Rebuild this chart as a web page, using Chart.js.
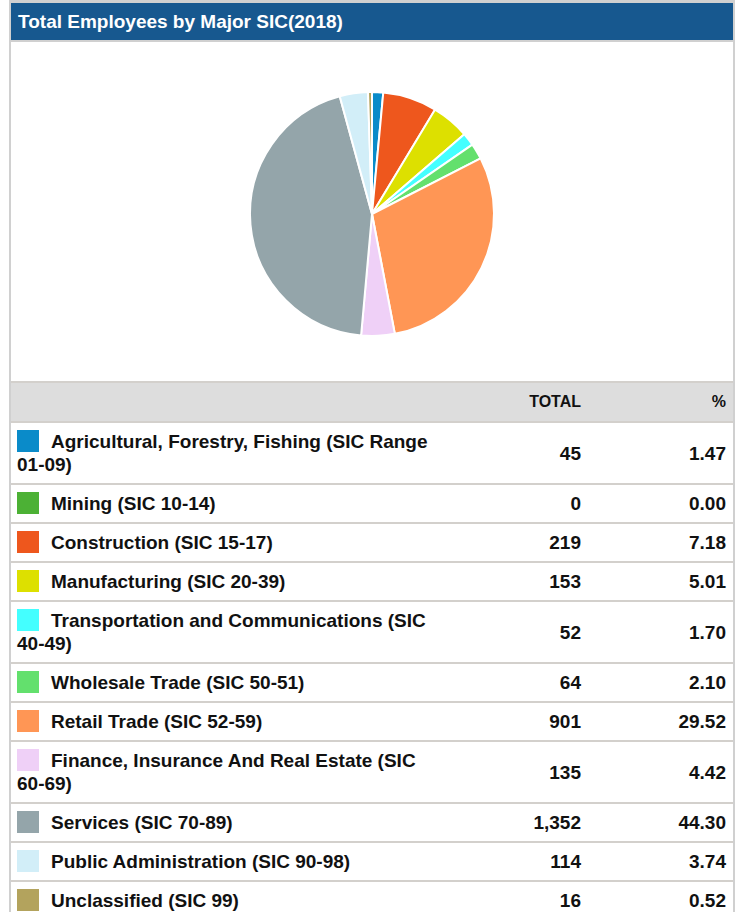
<!DOCTYPE html>
<html>
<head>
<meta charset="utf-8">
<script src="https://cdn.jsdelivr.net/npm/chart.js@4/dist/chart.umd.min.js"></script>
<style>
    body { margin: 0; background: #fff; font-family: "Liberation Sans", Arial, Helvetica, sans-serif; }
    #panel {
        position: absolute; left: 9px; top: 0; width: 722px;
        border: 2px solid #d0d0d0; border-top-width: 3px; border-bottom: none;
    }
    #title {
        height: 37px; line-height: 37px; background: #17588f; color: #fff;
        font-weight: bold; font-size: 19px; padding-left: 7px;
        border-bottom: 2px solid #d0d0d0;
    }
    #chartBox { position: relative; height: 339px; width: 722px; }
    table { border-collapse: collapse; width: 722px; table-layout: fixed; border-top: 2px solid #d3d0cc; }
    td, th { border-bottom: 2px solid #d3d0cc; font-weight: bold; color: #111; }
    th { background: #dddddd; height: 38px; padding: 0; font-size: 16px; text-align: right; }
    td { font-size: 19px; line-height: 23px; padding: 7px 0; vertical-align: middle; }
    td.name { padding-left: 6px; padding-right: 14px; }
    td.num { text-align: right; padding-right: 10px; }
    td.pct { text-align: right; padding-right: 7px; }
    th.num { padding-right: 10px; }
    th.pct { padding-right: 7px; }
    .sw { display: inline-block; width: 22px; height: 22px; margin-right: 12px; vertical-align: -4px; }
    .nw { white-space: nowrap; }
</style>
</head>
<body>
<div id="panel">
    <div id="title">Total Employees by Major SIC(2018)</div>
    <div id="chartBox"><canvas id="pieChart"></canvas></div>
    <table>
        <colgroup><col style="width:459px"><col style="width:121px"><col style="width:142px"></colgroup>
        <thead><tr><th></th><th class="num">TOTAL</th><th class="pct">%</th></tr></thead>
        <tbody id="rows"></tbody>
    </table>
</div>
<script>
const categories = [
    'Agricultural, Forestry, Fishing (SIC Range 01-09)',
    'Mining (SIC 10-14)',
    'Construction (SIC 15-17)',
    'Manufacturing (SIC 20-39)',
    'Transportation and Communications (SIC 40-49)',
    'Wholesale Trade (SIC 50-51)',
    'Retail Trade (SIC 52-59)',
    'Finance, Insurance And Real Estate (SIC 60-69)',
    'Services (SIC 70-89)',
    'Public Administration (SIC 90-98)',
    'Unclassified (SIC 99)'
];
const totals = [45, 0, 219, 153, 52, 64, 901, 135, 1352, 114, 16];
const percents = [1.47, 0.00, 7.18, 5.01, 1.70, 2.10, 29.52, 4.42, 44.30, 3.74, 0.52];
const colors = ['#0a8bc9', '#4cb135', '#ee571d', '#dde000', '#44ffff', '#63e06d',
                '#ff9655', '#efd0f7', '#94a5aa', '#d2eef8', '#b3a35d'];

// table below the pie; keep "01-09)" style ranges from breaking at the hyphen
const tbody = document.getElementById('rows');
categories.forEach((name, i) => {
    const label = name.replace(/(\S+-\S+)/g, '<span class="nw">$1</span>');
    const tr = document.createElement('tr');
    tr.innerHTML =
        `<td class="name"><span class="sw" style="background:${colors[i]}"></span>${label}</td>` +
        `<td class="num">${totals[i].toLocaleString('en-US')}</td>` +
        `<td class="pct">${percents[i].toFixed(2)}</td>`;
    tbody.appendChild(tr);
});

new Chart(document.getElementById('pieChart').getContext('2d'), {
    type: 'pie',
    data: {
        labels: categories,
        datasets: [{
            data: totals,
            backgroundColor: colors,
            borderColor: '#ffffff',
            borderWidth: 2,
            radius: 122
        }]
    },
    options: {
        responsive: true,
        maintainAspectRatio: false,
        animation: false,
        layout: { padding: { top: 5 } },
        plugins: {
            legend: { display: false },
            tooltip: { enabled: false }
        }
    }
});
</script>
</body>
</html>
